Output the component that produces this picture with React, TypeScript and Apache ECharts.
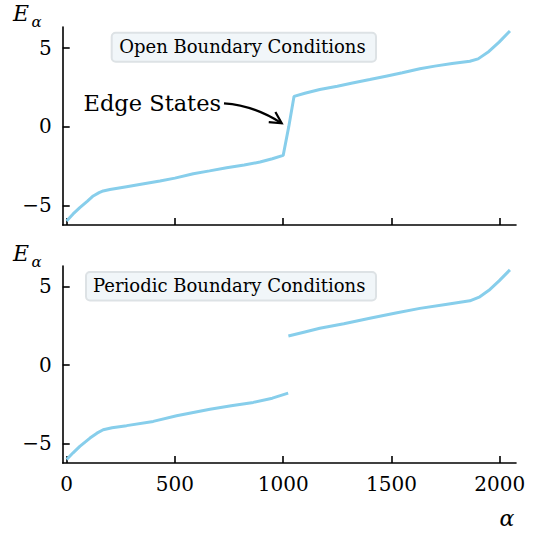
import React, { useEffect, useRef } from "react";
import * as echarts from "echarts";

// Open boundary conditions: sorted eigenvalues
const alphaOpen = [0, 30, 61, 95, 123, 150, 169, 200, 277, 350, 431, 500, 585, 660, 739, 820, 893, 950, 1000, 1026, 1050, 1100, 1169, 1250, 1320, 1400, 1480, 1550, 1631, 1700, 1780, 1862, 1900, 1950, 1997, 2047];
const energyOpen = [-6.0, -5.55, -5.15, -4.75, -4.41, -4.2, -4.09, -4.0, -3.82, -3.65, -3.46, -3.28, -3.0, -2.82, -2.62, -2.45, -2.26, -2.05, -1.84, 0.0, 1.9, 2.1, 2.34, 2.55, 2.75, 2.97, 3.2, 3.4, 3.65, 3.82, 3.98, 4.13, 4.28, 4.75, 5.34, 6.05];

// Periodic boundary conditions: lower and upper bands
const alphaPeriodicLow = [0, 30, 61, 108, 140, 169, 210, 277, 400, 508, 662, 760, 862, 950, 1023];
const energyPeriodicLow = [-6.03, -5.6, -5.19, -4.66, -4.35, -4.13, -4.0, -3.87, -3.6, -3.24, -2.82, -2.6, -2.39, -2.12, -1.8];
const alphaPeriodicHigh = [1024, 1100, 1169, 1280, 1400, 1520, 1631, 1750, 1862, 1908, 1950, 1997, 2047];
const energyPeriodicHigh = [1.84, 2.1, 2.33, 2.62, 2.97, 3.3, 3.6, 3.85, 4.08, 4.34, 4.75, 5.35, 6.05];

const xTicks = [0, 500, 1000, 1500, 2000];
const yTicks = [-5, 0, 5];

const FONT = "DejaVu Serif";
const LINE_COLOR = "#87ceeb";

const zip = (xs: number[], ys: number[]) => xs.map((x, i) => [x, ys[i]]);

export default function App() {
  const ref = useRef<HTMLDivElement>(null);

  useEffect(() => {
    if (!ref.current) return;
    const chart = echarts.init(ref.current, undefined, { renderer: "svg" });

    const mkX = (gi: number, showLabels: boolean) => ({
      type: "value",
      gridIndex: gi,
      min: -18,
      max: 2075,
      axisLine: { show: true, onZero: false, lineStyle: { color: "#000", width: 1.6 } },
      axisTick: { show: true, inside: true, length: 7, customValues: xTicks, lineStyle: { color: "#000", width: 1.6 } },
      axisLabel: {
        show: showLabels,
        customValues: xTicks,
        margin: 11,
        fontFamily: FONT,
        fontSize: 20,
        color: "#000",
        formatter: (v: number) => String(v),
      },
      splitLine: { show: false },
    });
    const mkY = (gi: number) => ({
      type: "value",
      gridIndex: gi,
      min: -6.25,
      max: 6.3,
      axisLine: { show: true, onZero: false, lineStyle: { color: "#000", width: 1.6 } },
      axisTick: { show: true, inside: true, length: 7, customValues: yTicks, lineStyle: { color: "#000", width: 1.6 } },
      axisLabel: {
        show: true,
        customValues: yTicks,
        margin: 11,
        fontFamily: FONT,
        fontSize: 20,
        color: "#000",
        formatter: (v: number) => (v < 0 ? "\u2212" + Math.abs(v) : String(v)),
      },
      splitLine: { show: false },
    });

    // arrow geometry (annotation)
    const p0 = [224, 103.3];
    const cp = [254, 105.3];
    const p2 = [281.7, 123.3];
    const dx = p2[0] - cp[0], dy = p2[1] - cp[1];
    const len = Math.hypot(dx, dy);
    const bx = -dx / len, by = -dy / len;
    const th = (28 * Math.PI) / 180, hl = 13;
    const h1 = [p2[0] + hl * (bx * Math.cos(th) - by * Math.sin(th)), p2[1] + hl * (bx * Math.sin(th) + by * Math.cos(th))];
    const h2 = [p2[0] + hl * (bx * Math.cos(th) + by * Math.sin(th)), p2[1] + hl * (-bx * Math.sin(th) + by * Math.cos(th))];

    const labelBox = (x: number, y: number, w: number, h: number, tx: number, text: string) => [
      {
        type: "rect",
        shape: { x, y, width: w, height: h, r: 4 },
        style: { fill: "#f1f6f9", stroke: "#dde2e5", lineWidth: 2 },
        z: 10,
      },
      {
        type: "text",
        style: { x: tx, y: y + h / 2 - 0.5, text, fontFamily: FONT, fontSize: 18, fill: "#000", align: "left", verticalAlign: "middle" },
        z: 11,
      },
    ];

    const ylab = (top: number) => [
      {
        type: "text",
        style: { x: 13, y: top + 13.3, text: "E", fontFamily: FONT, fontStyle: "italic", fontSize: 22, fill: "#000", align: "left", verticalAlign: "middle" },
      },
      {
        type: "text",
        style: { x: 31.5, y: top + 21.5, text: "α", fontFamily: FONT, fontStyle: "italic", fontSize: 15, fill: "#000", align: "left", verticalAlign: "middle" },
      },
    ];

    chart.setOption({
      animation: false,
      backgroundColor: "#fff",
      grid: [
        { left: 62.7, top: 27, width: 453.3, height: 198 },
        { left: 62.7, top: 266, width: 453.3, height: 197 },
      ],
      xAxis: [mkX(0, false), mkX(1, true)],
      yAxis: [mkY(0), mkY(1)],
      series: [
        {
          type: "line",
          xAxisIndex: 0,
          yAxisIndex: 0,
          data: zip(alphaOpen, energyOpen),
          showSymbol: false,
          lineStyle: { color: LINE_COLOR, width: 3 },
          z: 3,
        },
        {
          type: "line",
          xAxisIndex: 1,
          yAxisIndex: 1,
          data: zip(alphaPeriodicLow, energyPeriodicLow),
          showSymbol: false,
          lineStyle: { color: LINE_COLOR, width: 3 },
          z: 3,
        },
        {
          type: "line",
          xAxisIndex: 1,
          yAxisIndex: 1,
          data: zip(alphaPeriodicHigh, energyPeriodicHigh),
          showSymbol: false,
          lineStyle: { color: LINE_COLOR, width: 3 },
          z: 3,
        },
      ],
      graphic: [
        ...labelBox(111.7, 32.7, 264.3, 29, 119.3, "Open Boundary Conditions"),
        ...labelBox(86, 272, 290, 28.5, 93, "Periodic Boundary Conditions"),
        ...ylab(0),
        ...ylab(240),
        {
          type: "text",
          style: { x: 507, y: 518, text: "α", fontFamily: FONT, fontStyle: "italic", fontSize: 22, fill: "#000", align: "center", verticalAlign: "middle" },
        },
        {
          type: "text",
          style: { x: 221, y: 103.2, text: "Edge States", fontFamily: FONT, fontSize: 22.5, fill: "#000", align: "right", verticalAlign: "middle" },
        },
        {
          type: "bezierCurve",
          shape: { x1: p0[0], y1: p0[1], x2: p2[0], y2: p2[1], cpx1: cp[0], cpy1: cp[1] },
          style: { stroke: "#000", lineWidth: 2.2, fill: null },
        },
        {
          type: "polyline",
          shape: { points: [h1, p2, h2] },
          style: { stroke: "#000", lineWidth: 2.2, fill: null },
        },
      ],
    });

    return () => chart.dispose();
  }, []);

  return (
    <div
      ref={ref}
      style={{ position: "fixed", left: 0, top: 0, width: 541, height: 533, background: "#fff" }}
    />
  );
}
